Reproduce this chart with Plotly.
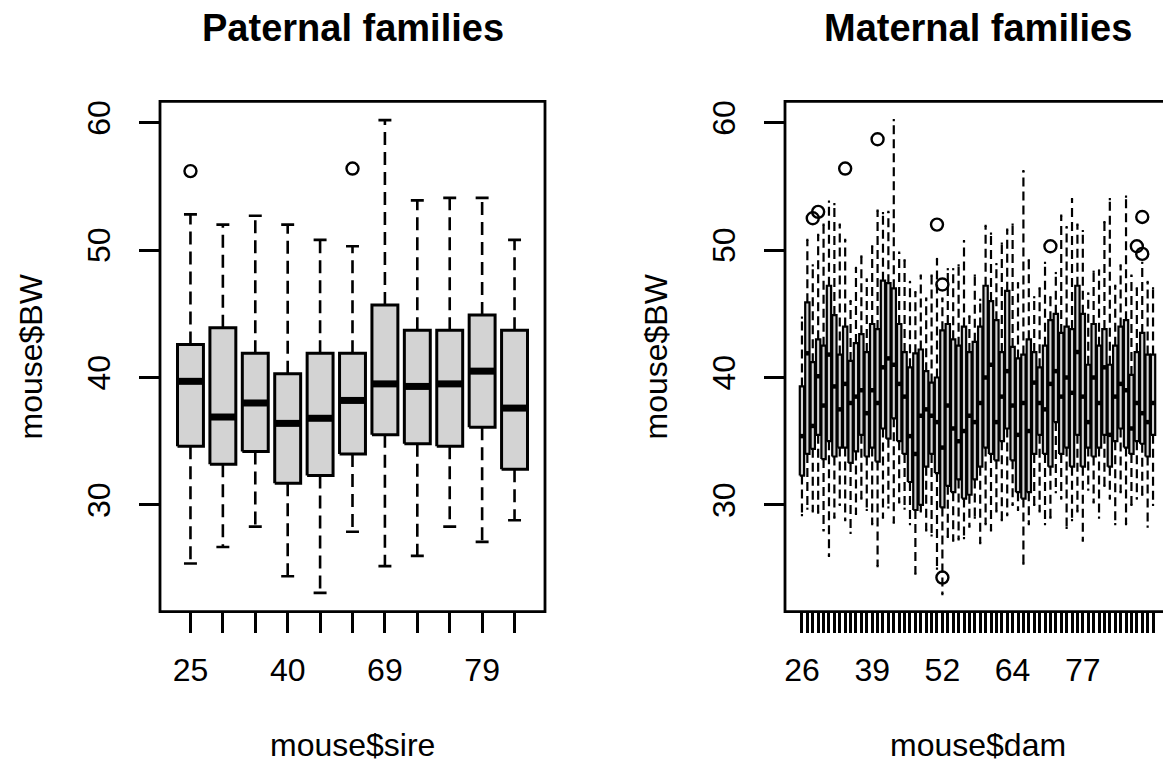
import plotly.graph_objects as go

# ---------------- data: paternal families (sire) ----------------
sire_lower = [25.4, 26.7, 28.3, 24.4, 23.1, 27.9, 25.2, 26.0, 28.3, 27.1, 28.8]
sire_q1 = [34.6, 33.2, 34.2, 31.7, 32.3, 34.0, 35.5, 34.8, 34.6, 36.1, 32.8]
sire_median = [39.7, 36.9, 38.0, 36.4, 36.8, 38.2, 39.5, 39.3, 39.5, 40.5, 37.6]
sire_q3 = [42.6, 43.9, 41.9, 40.3, 41.9, 41.9, 45.7, 43.7, 43.7, 44.9, 43.7]
sire_upper = [52.8, 52.0, 52.7, 52.0, 50.8, 50.3, 60.2, 53.9, 54.1, 54.1, 50.8]
sire_out_box = [1, 6]
sire_out_val = [56.2, 56.4]
sire_label_pos = [1, 4, 7, 10]
sire_labels = ["25", "40", "69", "79"]

# ---------------- data: maternal families (dam) ----------------
dam_lower = [29.2, 29.7, 29.5, 29.4, 28.0, 26.0, 29.0, 30.0, 28.8, 27.8,
             29.3, 30.5, 29.6, 28.5, 25.2, 29.0, 29.8, 28.6, 30.2, 29.7,
             28.5, 24.6, 29.5, 28.0, 27.6, 25.0, 23.0, 27.5, 27.2, 27.3,
             27.4, 28.3, 29.0, 27.0, 28.5, 28.0, 29.5, 28.8, 29.2, 30.0,
             29.6, 25.4, 28.5, 30.0, 29.5, 28.5, 29.0, 31.0, 30.5, 28.2,
             28.8, 29.5, 27.2, 31.2, 30.2, 29.0, 31.5, 30.5, 28.5, 31.0,
             28.5, 30.0, 30.5, 30.8, 28.3, 30.0]
dam_q1 = [32.3, 34.0, 34.4, 35.5, 33.6, 35.0, 33.8, 34.5, 34.5, 33.3,
          34.2, 35.5, 33.8, 34.5, 33.4, 36.0, 35.2, 36.8, 35.0, 34.0,
          31.8, 29.6, 30.0, 33.0, 34.0, 32.5, 29.8, 31.5, 31.0, 32.0,
          30.5, 30.8, 32.0, 33.0, 34.5, 34.0, 33.5, 35.0, 36.0, 33.5,
          31.0, 30.5, 31.0, 34.0, 35.5, 34.0, 33.0, 36.5, 34.0, 34.5,
          33.0, 35.5, 33.0, 34.5, 33.8, 34.5, 35.5, 33.0, 35.0, 36.0,
          34.5, 34.0, 35.0, 34.8, 33.8, 35.5]
dam_median = [35.4, 41.9, 36.2, 40.1, 37.8, 41.8, 39.3, 37.5, 39.5, 38.0,
              38.5, 39.0, 37.2, 39.0, 38.0, 40.8, 41.5, 41.0, 39.5, 38.5,
              35.4, 34.0, 37.0, 37.5, 37.0, 36.5, 34.5, 37.8, 36.0, 35.0,
              35.8, 37.0, 36.5, 38.0, 40.0, 41.0, 36.5, 38.5, 40.5, 37.8,
              35.5, 38.0, 35.8, 39.6, 38.0, 37.5, 39.5, 40.5, 38.5, 40.0,
              38.8, 42.0, 38.5, 36.5, 40.0, 38.0, 40.8, 35.5, 38.5, 39.5,
              39.0, 36.0, 38.0, 37.2, 36.5, 38.0]
dam_q3 = [39.3, 45.9, 41.2, 43.0, 42.5, 47.2, 44.9, 41.8, 44.0, 41.3,
          42.7, 43.4, 42.0, 44.2, 43.8, 47.6, 47.4, 47.0, 44.2, 42.0,
          40.8, 41.9, 42.2, 40.5, 39.6, 40.0, 43.7, 44.2, 43.0, 42.5,
          44.0, 42.0, 42.8, 44.0, 47.2, 46.0, 44.5, 42.0, 46.8, 42.4,
          41.5, 41.8, 43.0, 42.0, 40.8, 42.5, 44.5, 45.0, 43.5, 44.0,
          43.8, 47.2, 45.0, 41.0, 44.2, 42.5, 43.8, 41.0, 42.5, 44.0,
          44.5, 40.2, 42.0, 43.5, 41.8, 41.8]
dam_upper = [44.7, 50.8, 48.8, 51.2, 52.0, 53.8, 53.6, 52.0, 50.8, 46.0,
             48.6, 49.5, 47.7, 50.3, 53.1, 52.9, 53.0, 60.2, 49.8, 49.2,
             47.5, 46.7, 48.0, 46.2, 48.0, 49.3, 46.2, 48.5, 48.5, 48.8,
             50.7, 44.8, 48.0, 46.1, 51.9, 51.3, 48.9, 50.5, 51.6, 52.0,
             47.4, 56.2, 49.2, 46.3, 47.0, 49.0, 46.3, 48.2, 52.7, 51.8,
             54.0, 52.0, 51.5, 46.6, 48.3, 48.4, 52.2, 54.0, 47.2, 48.8,
             54.2, 48.0, 47.0, 49.0, 47.5, 47.0]
dam_out_box = [3, 4, 9, 15, 26, 27, 27, 47, 63, 64, 64]
dam_out_val = [52.5, 53.0, 56.4, 58.7, 52.0, 47.3, 24.3, 50.3, 50.3, 52.6, 49.7]
dam_label_pos = [1, 14, 27, 40, 53]
dam_labels = ["26", "39", "52", "64", "77"]

# ---------------- layout geometry (pixels of the 1163x766 page) ----------------
W, H = 1163, 766
FONT = "Liberation Sans, Arial, sans-serif"
Y_RANGE = [21.62, 61.67]
Y_TICKS = [30, 40, 50, 60]


def px_x(p):
    return p / W


def px_y(p):
    return 1 - p / H


def box_traces(lower, q1, med, q3, upper, out_box, out_val, xa, ya,
               lw, wlw, med_w, dash, marker_size):
    half, stap = 0.4, 0.2
    wx, wy, sx, sy, bx, by, mx, my = [], [], [], [], [], [], [], []
    for i in range(len(q1)):
        p = i + 1
        wx += [p, p, None, p, p, None]
        wy += [q3[i], upper[i], None, q1[i], lower[i], None]
        sx += [p - stap, p + stap, None, p - stap, p + stap, None]
        sy += [upper[i], upper[i], None, lower[i], lower[i], None]
        bx += [p - half, p + half, p + half, p - half, p - half, None]
        by += [q1[i], q1[i], q3[i], q3[i], q1[i], None]
        mx += [p - half, p + half, None]
        my += [med[i], med[i], None]
    common = dict(xaxis=xa, yaxis=ya, showlegend=False, hoverinfo="skip")
    return [
        go.Scatter(x=wx, y=wy, mode="lines",
                   line=dict(color="black", width=wlw, dash=dash), **common),
        go.Scatter(x=sx, y=sy, mode="lines",
                   line=dict(color="black", width=wlw), **common),
        go.Scatter(x=bx, y=by, mode="lines", fill="toself",
                   fillcolor="#D3D3D3", line=dict(color="black", width=lw),
                   **common),
        go.Scatter(x=mx, y=my, mode="lines",
                   line=dict(color="black", width=med_w), **common),
        go.Scatter(x=out_box, y=out_val, mode="markers",
                   marker=dict(symbol="circle-open", size=marker_size,
                               color="black", line=dict(width=2.4)),
                   cliponaxis=False, **common),
    ]


fig = go.Figure()
for t in box_traces(sire_lower, sire_q1, sire_median, sire_q3, sire_upper,
                    sire_out_box, sire_out_val, "x", "y",
                    lw=3, wlw=2.6, med_w=7, dash="13px,7px", marker_size=12):
    fig.add_trace(t)
for t in box_traces(dam_lower, dam_q1, dam_median, dam_q3, dam_upper,
                    dam_out_box, dam_out_val, "x2", "y2",
                    lw=2.2, wlw=2.2, med_w=4.5, dash="9px,5px", marker_size=12):
    fig.add_trace(t)

n_s = len(sire_q1)
n_d = len(dam_q1)
# R style limits: [0.5, n+0.5] widened by 4 %
s_lo = 0.5 - 0.04 * n_s
s_hi = n_s + 0.5 + 0.04 * n_s
d_lo = 0.5 - 0.04 * n_d
d_hi_full = n_d + 0.5 + 0.04 * n_d
plot_w = 545 - 160
d_hi_vis = d_lo + (W - 785) / plot_w * (d_hi_full - d_lo)


def tick_text(n, pos, labels):
    txt = [""] * n
    for p, l in zip(pos, labels):
        txt[p - 1] = l
    return txt


axis_common = dict(showgrid=False, zeroline=False, showline=False,
                   ticks="outside", ticklen=20, tickwidth=2.6,
                   tickcolor="black",
                   tickfont=dict(family=FONT, size=32, color="black"),
                   fixedrange=True)

y_dom = [px_y(611.7), px_y(101.4)]
fig.update_layout(
    width=W, height=H,
    margin=dict(l=0, r=0, t=0, b=0),
    paper_bgcolor="white", plot_bgcolor="white",
    xaxis=dict(domain=[px_x(160), px_x(545)], range=[s_lo, s_hi],
               tickmode="array", tickvals=list(range(1, n_s + 1)),
               ticktext=tick_text(n_s, sire_label_pos, sire_labels),
               anchor="y", ticklabelstandoff=10, **axis_common),
    yaxis=dict(domain=y_dom, range=Y_RANGE, tickmode="array",
               tickvals=Y_TICKS, ticktext=[str(v) for v in Y_TICKS],
               tickangle=-90, anchor="x", ticklabelstandoff=16,
               **axis_common),
    xaxis2=dict(domain=[px_x(785), 1.0], range=[d_lo, d_hi_vis],
                tickmode="array", tickvals=list(range(1, n_d + 1)),
                ticktext=tick_text(n_d, dam_label_pos, dam_labels),
                anchor="y2", ticklabelstandoff=10, **axis_common),
    yaxis2=dict(domain=y_dom, range=Y_RANGE, tickmode="array",
                tickvals=Y_TICKS, ticktext=[str(v) for v in Y_TICKS],
                tickangle=-90, anchor="x2", ticklabelstandoff=16,
                **axis_common),
)

# plot frames (R box around each panel)
for x0, x1 in [(160, 545), (785, 1170)]:
    fig.add_shape(type="rect", xref="paper", yref="paper",
                  x0=px_x(x0), x1=px_x(x1), y0=px_y(611.7), y1=px_y(101.4),
                  line=dict(color="black", width=2.8), layer="above")

# titles and axis labels
ann = []
for cx, title, xlab, ylab_x in [(352.5, "Paternal families", "mouse$sire", 30),
                                (977.5, "Maternal families", "mouse$dam", 655)]:
    ann.append(dict(x=px_x(cx), y=px_y(28), xref="paper", yref="paper",
                    text="<b>" + title + "</b>", showarrow=False,
                    xanchor="center", yanchor="middle",
                    font=dict(family=FONT, size=38, color="black")))
    ann.append(dict(x=px_x(cx), y=px_y(745), xref="paper", yref="paper",
                    text=xlab, showarrow=False, xanchor="center",
                    yanchor="middle",
                    font=dict(family=FONT, size=32, color="black")))
    ann.append(dict(x=px_x(ylab_x), y=px_y(356.5), xref="paper", yref="paper",
                    text="mouse$BW", showarrow=False, textangle=-90,
                    xanchor="center", yanchor="middle",
                    font=dict(family=FONT, size=32, color="black")))
fig.update_layout(annotations=ann)

fig.write_html("out.html")
